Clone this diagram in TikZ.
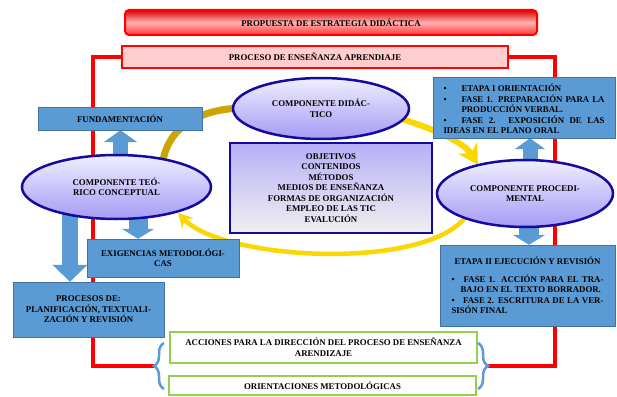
\documentclass[tikz,border=0pt]{standalone}
\usepackage{fontspec}
\setmainfont{Liberation Serif}
\usepackage{tikz}
\usetikzlibrary{arrows.meta,shapes.geometric,backgrounds,decorations.pathreplacing}

\definecolor{boxblue}{RGB}{91,155,213}
\definecolor{boxedge}{RGB}{65,113,156}
\definecolor{ovaledge}{RGB}{20,10,160}
\definecolor{ovaltop}{RGB}{240,238,255}
\definecolor{ovalbot}{RGB}{165,155,245}
\definecolor{framered}{RGB}{255,0,0}
\definecolor{pinkfill}{RGB}{255,205,205}
\definecolor{leafgreen}{RGB}{146,208,80}
\definecolor{ringyellow}{RGB}{250,215,0}
\definecolor{ringgold}{RGB}{205,165,0}

% bullet line with hanging indent
\newcommand{\itm}[1][18pt]{\par\noindent\hangindent=#1\hangafter=1\makebox[#1][l]{\textbullet}}

\begin{document}
\begin{tikzpicture}[x=1pt, y=-1pt, font=\fontsize{8.8}{10.5}\selectfont\bfseries,
        bluebox/.style={draw=boxedge, fill=boxblue, rectangle, inner sep=2pt, align=center},
        oval/.style={draw=ovaledge, line width=2.5pt, ellipse, top color=ovaltop, bottom color=ovalbot, inner sep=0pt, align=center},
        greenbox/.style={draw=leafgreen, line width=1.3pt, fill=white, minimum width=307pt, align=center},
        redframe/.style={draw=framered, line width=4pt},
        blockarrow/.style={draw=boxblue},
        curly/.style={draw=boxblue, line width=2.5pt, decorate, decoration={brace, amplitude=10pt}}]
        \begin{scope}[on background layer]
            \fill[white] (0,0) rectangle (617,396);
        \end{scope}
        \useasboundingbox (0,0) rectangle (617,396);

        % Title and process
        \node[draw=framered, line width=2pt, rounded corners=4pt, top color=red!85!black, bottom color=red!80, middle color=red!30,
            minimum width=412pt, minimum height=25pt] (propuesta) at (331, 22.5) {PROPUESTA DE ESTRATEGIA DIDÁCTICA};
        \node[draw=framered, line width=1.5pt, fill=pinkfill, minimum width=386pt, minimum height=22pt] (proceso) at (315, 57)
            {PROCESO DE ENSEÑANZA APRENDIAJE};

        % Components
        \node[oval, minimum width=189pt, minimum height=64pt] (teorico) at (116.5, 187) {COMPONENTE TEÓ-\\RICO CONCEPTUAL};
        \node[oval, minimum width=176pt, minimum height=61pt] (didactico) at (321, 108.5) {COMPONENTE DIDÁC-\\TICO};
        \node[oval, minimum width=176pt, minimum height=67pt] (procedimental) at (525, 193.5) {COMPONENTE PROCEDI-\\MENTAL};
        \node[draw=ovaledge, line width=2.5pt, top color=ovalbot!80, bottom color=gray!12, minimum width=202pt, minimum height=90pt,
            align=center] (contenidos) at (331, 188)
            {OBJETIVOS\\CONTENIDOS\\MÉTODOS\\MEDIOS DE ENSEÑANZA\\FORMAS DE ORGANIZACIÓN\\EMPLEO DE LAS TIC\\EVALUCIÓN};

        % Left boxes
        \node[bluebox, minimum width=164pt, minimum height=23pt] (fund) at (120, 118.5) {FUNDAMENTACIÓN};
        \node[bluebox, minimum width=152pt, minimum height=38pt] (exigencias) at (163, 258) {EXIGENCIAS METODOLÓGI-\\CAS};
        \node[bluebox, minimum width=151pt, minimum height=55pt] (procesos) at (88.5, 309.5)
            {PROCESOS DE:\\PLANIFICACIÓN, TEXTUALI-\\ZACIÓN Y REVISIÓN};

        % Right boxes
        \node[bluebox, text width=161pt, inner xsep=10.5pt, minimum height=61pt, align=justify] (etapa1) at (524, 107.5)
            {\itm ETAPA I ORIENTACIÓN
             \itm FASE 1. PREPARACIÓN PARA LA\linebreak PRODUCCIÓN VERBAL.
             \itm FASE 2. EXPOSICIÓN DE LAS\linebreak IDEAS EN EL PLANO ORAL};
        \node[bluebox, text width=152pt, inner xsep=11.5pt, minimum height=81pt, align=justify] (etapa2) at (527.5, 285.5)
            {{\centering ETAPA II EJECUCIÓN Y REVISIÓN\par}\vspace{7pt}
             \itm[9pt] FASE 1. ACCIÓN PARA EL TRA-\linebreak BAJO EN EL TEXTO BORRADOR.
             \itm[9pt] FASE 2. ESCRITURA DE LA VER-\linebreak SISÓN FINAL};

        % Bottom actions
        \node[greenbox, minimum height=31pt] (acciones) at (323.5, 347.5)
            {ACCIONES PARA LA DIRECCIÓN DEL PROCESO DE ENSEÑANZA\\ARENDIZAJE};
        \node[greenbox, minimum height=19pt] (orientaciones) at (322.5, 385.5) {ORIENTACIONES METODOLÓGICAS};
        \draw[curly] (164, 389) -- (164, 343);
        \draw[curly] (478, 343) -- (478, 389);
        \coordinate (ltip) at (154, 366);
        \coordinate (rtip) at (488, 366);
        \coordinate (lcorner) at (93, 366);
        \coordinate (rcorner) at (555, 366);

        \begin{scope}[on background layer]
            % Red frame
            \draw[redframe] (proceso.west) -| (lcorner) -- (ltip);
            \draw[redframe] (proceso.east) -| (rcorner) -- (rtip);

            % Cycle of components
            \draw[ringgold, line width=7pt] (162, 168) .. controls (165, 130) and (195, 110) .. (240, 108);
            \draw[ringyellow, line width=6pt, -{Stealth[length=20pt, width=22pt]}]
                (398, 118) .. controls (432, 128) and (464, 142) .. (478, 165);
            \draw[ringyellow, line width=4.5pt, -{Stealth[length=14pt, width=15pt]}]
                (470, 210) .. controls (440, 272) and (225, 262) .. (178, 213);

            % Block arrows
            \draw[blockarrow, line width=15pt, -{Triangle[width=33pt, length=12pt]}] (teorico.center -| 120.5,0) -- (fund.south -| 120.5,0);
            \draw[blockarrow, line width=16pt, -{Triangle[width=34pt, length=17pt]}] (teorico.center -| 70,0) -- (procesos.north -| 70,0);
            \draw[blockarrow, line width=19pt, -{Triangle[width=32pt, length=10pt]}] (teorico.center -| 138,0) -- (exigencias.north -| 138,0);
            \draw[blockarrow, line width=15pt, -{Triangle[width=30pt, length=11pt]}] (procedimental.center -| 530,0) -- (etapa1.south -| 530,0);
            \draw[blockarrow, line width=20pt, -{Triangle[width=32pt, length=10pt]}] (procedimental.center -| 529,0) -- (etapa2.north -| 529,0);
        \end{scope}
    \end{tikzpicture}
\end{document}
